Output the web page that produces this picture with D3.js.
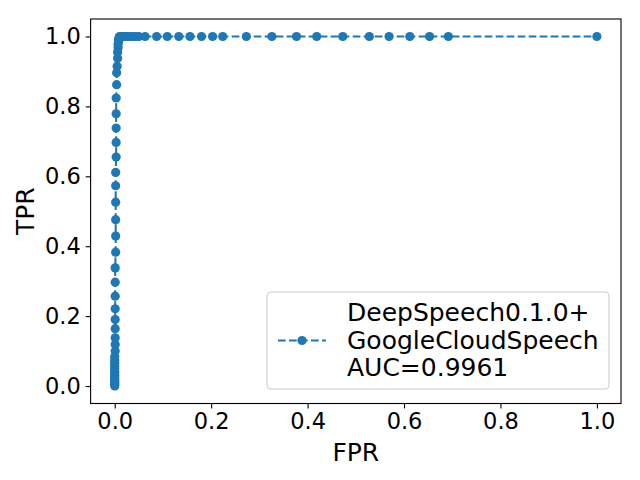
<!DOCTYPE html>
<html>
<head>
<meta charset="utf-8">
<script src="https://cdn.jsdelivr.net/npm/d3@7"></script>
<style>
body{margin:0;background:#fff;}
text{font-family:"DejaVu Sans",sans-serif;fill:#000;}
</style>
</head>
<body>
<svg id="chart" width="640" height="480"></svg>
<script>
// ROC curve data (FPR, TPR)
const fpr = [0,0,0,0,0,0,0,0,0,0, 0,0,0,0,0,
  0.001,0.001,0.001,0.001,0.001,0.001,0.001,0.001,
  0.001,0.002,0.002,0.002,0.002,0.002,0.002,
  0.003,0.003,0.003,0.003,0.003,0.004,0.004,0.005,0.006,
  0.006,0.007,0.007,0.008,0.008,0.009,0.010,
  0.014,0.018,0.023,0.028,0.033,0.038,0.044,0.050,0.063,0.087,0.109,0.133,0.156,0.180,0.203,0.224,
  0.273,0.326,0.377,0.419,0.473,0.528,0.569,0.612,0.653,0.692,1.0];
const tpr = [0.000,0.004,0.008,0.012,0.016,0.021,0.026,0.031,0.037,0.043,
  0.050,0.057,0.065,0.074,0.084,
  0.100,0.119,0.138,0.164,0.190,0.221,0.257,0.297,
  0.338,0.383,0.429,0.476,0.526,0.573,0.611,
  0.655,0.697,0.738,0.779,0.824,0.862,0.896,0.915,0.938,
  0.955,0.968,0.978,0.986,0.992,0.996,1.000,
  1,1,1,1,1,1,1,1,1,1,1,1,1,1,1,1,
  1,1,1,1,1,1,1,1,1,1,1];
const xTicks = [0.0,0.2,0.4,0.6,0.8,1.0];
const yTicks = [0.0,0.2,0.4,0.6,0.8,1.0];
const legendLines = ["DeepSpeech0.1.0+","GoogleCloudSpeech","AUC=0.9961"];
const xLabel = "FPR", yLabel = "TPR";

const color = "#1f77b4";
const svg = d3.select("#chart");
const L = 90.6, R = 621, T = 19, B = 403.5;
const x = d3.scaleLinear().domain([-0.05,1.05]).range([L,R]);
const y = d3.scaleLinear().domain([-0.05,1.05]).range([B,T]);

const data = fpr.map((f,i)=>({f, t:tpr[i]}));
const g = svg.append("g");

// line
g.append("path")
  .datum(data)
  .attr("fill","none")
  .attr("stroke",color)
  .attr("stroke-width",2.08)
  .attr("stroke-dasharray","7.7,3.3")
  .attr("d", d3.line().x(d=>x(d.f)).y(d=>y(d.t)));
g.selectAll("circle.pt").data(data).join("circle")
  .attr("class","pt")
  .attr("cx",d=>x(d.f)).attr("cy",d=>y(d.t)).attr("r",4.6)
  .attr("fill",color);

// axes
const xAxis = d3.axisBottom(x).tickValues(xTicks).tickFormat(d3.format(".1f")).tickSizeOuter(0).tickSize(4.9).tickPadding(4.9);
const yAxis = d3.axisLeft(y).tickValues(yTicks).tickFormat(d3.format(".1f")).tickSizeOuter(0).tickSize(4.9).tickPadding(4.9);
const gx = svg.append("g").attr("transform",`translate(0,${B})`).call(xAxis);
const gy = svg.append("g").attr("transform",`translate(${L},0)`).call(yAxis);
[gx,gy].forEach(a=>{
  a.select(".domain").remove();
  a.selectAll(".tick line").attr("stroke","#000").attr("stroke-width",1.1);
  a.selectAll(".tick text").attr("font-size","22.5px").attr("font-family","DejaVu Sans").attr("fill","#000");
});
// spines
svg.append("rect").attr("x",L).attr("y",T).attr("width",R-L).attr("height",B-T)
  .attr("fill","none").attr("stroke","#000").attr("stroke-width",1.1);

// axis labels
svg.append("text").attr("x",(L+R)/2).attr("y",461).attr("text-anchor","middle")
  .attr("font-size","25px").text(xLabel);
svg.append("text").attr("transform",`translate(34,${(T+B)/2}) rotate(-90)`).attr("text-anchor","middle")
  .attr("font-size","25px").text(yLabel);

// legend
const lg = svg.append("g");
lg.append("rect").attr("x",267).attr("y",292).attr("width",342).attr("height",97)
  .attr("rx",4).attr("fill","#fff").attr("fill-opacity",0.8)
  .attr("stroke","#cccccc").attr("stroke-width",1.1);
lg.append("line").attr("x1",278).attr("x2",326).attr("y1",340.5).attr("y2",340.5)
  .attr("stroke",color).attr("stroke-width",2.08).attr("stroke-dasharray","7.7,3.3");
lg.append("circle").attr("cx",302).attr("cy",340.5).attr("r",4.6).attr("fill",color);
lg.selectAll("text.leg").data(legendLines).join("text").attr("class","leg")
  .attr("x",347).attr("y",(d,i)=>321+i*27.5)
  .attr("font-size","25px").text(d=>d);
</script>
</body>
</html>
